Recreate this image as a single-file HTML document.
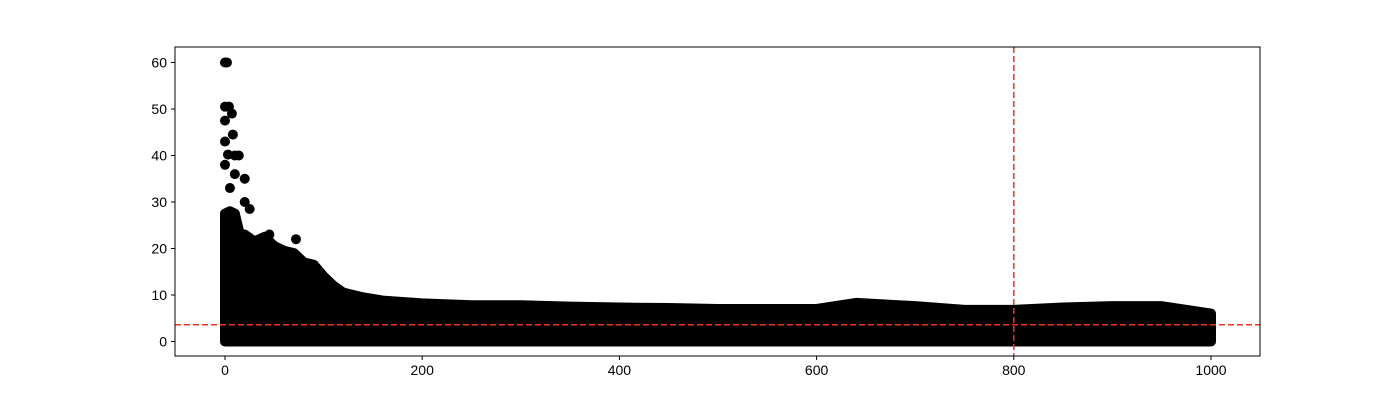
<!DOCTYPE html>
<html><head><meta charset="utf-8"><style>
body{margin:0;background:#fff;}
svg{display:block;font-family:"Liberation Sans",sans-serif;}
</style></head><body>
<svg id="chart" width="1400" height="400" viewBox="0 0 1400 400"></svg>
<script>
// band envelope of the dense scatter cloud (point centers)
const bandX = [0,5,10,15,20,30,40,50,60,70,80,90,100,110,120,140,160,200,250,300,350,400,450,500,550,600,640,700,750,800,850,900,950,1000];
const bandUpper = [27.5,28,27.5,23,23,21.5,22.5,20.5,19.5,19,17,16.5,14,12,10.5,9.5,8.8,8.2,7.8,7.8,7.5,7.3,7.2,7,7,7,8.3,7.6,6.8,6.8,7.3,7.6,7.6,6];
const bandLower = [0,0,0,0,0,0,0,0,0,0,0,0,0,0,0,0,0,0,0,0,0,0,0,0,0,0,0,0,0,0,0,0,0,0];
// isolated outlier points
const outX = [0,2,0,4,7,0,8,0,3,10,14,0,10,20,5,20,25,45,72];
const outY = [60,60,50.5,50.5,49,47.5,44.5,43,40.2,40,40,38,36,35,33,30,28.5,23,22];
const xTicks = [0,200,400,600,800,1000];
const yTicks = [0,10,20,30,40,50,60];
const hLineY = 3.6;
const vLineX = 800;

const svg = document.getElementById('chart');
const NS = 'http://www.w3.org/2000/svg';
const L=175,R=1260,T=47,B=356;
const xs = v => 225 + v*(1211-225)/1000;
const ys = v => 341.5 - v*(341.5-62.5)/60;
function mk(tag, attrs){const e=document.createElementNS(NS,tag);for(const k in attrs)e.setAttribute(k,attrs[k]);svg.appendChild(e);return e;}

// band
let pts=[];
for(let i=0;i<bandX.length;i++)pts.push(xs(bandX[i])+','+ys(bandUpper[i]));
for(let i=bandX.length-1;i>=0;i--)pts.push(xs(bandX[i])+','+ys(bandLower[i]));
const band=mk('polygon',{points:pts.join(' '),fill:'#000',stroke:'#000','stroke-width':10,'stroke-linejoin':'round'});


for(let i=0;i<outX.length;i++){
  const c=mk('circle',{cx:xs(outX[i]),cy:ys(outY[i]),r:5,fill:'#000'});
  
  
}
// reference lines
const hl=mk('line',{x1:L,x2:R,y1:ys(hLineY),y2:ys(hLineY),stroke:'#ee3322','stroke-width':1.5,'stroke-dasharray':'6,3'});


const vl=mk('line',{x1:xs(vLineX),x2:xs(vLineX),y1:T,y2:B,stroke:'#ee3322','stroke-width':1.5,'stroke-dasharray':'6,3'});


// frame
const fr=mk('rect',{x:L,y:T,width:R-L,height:B-T,fill:'none',stroke:'#000','stroke-width':1});


// ticks
xTicks.forEach(v=>{
  const t=mk('line',{x1:xs(v),x2:xs(v),y1:B,y2:B+4,stroke:'#000'});
  
  
  const tx=mk('text',{x:xs(v),y:B+19,'text-anchor':'middle','font-size':14,fill:'#000'});
  tx.textContent=v;
  
  
});
yTicks.forEach(v=>{
  const t=mk('line',{x1:L-4,x2:L,y1:ys(v),y2:ys(v),stroke:'#000'});
  
  
  const tx=mk('text',{x:L-8,y:ys(v)+5,'text-anchor':'end','font-size':14,fill:'#000'});
  tx.textContent=v;
  
  
});
</script>
</body></html>
